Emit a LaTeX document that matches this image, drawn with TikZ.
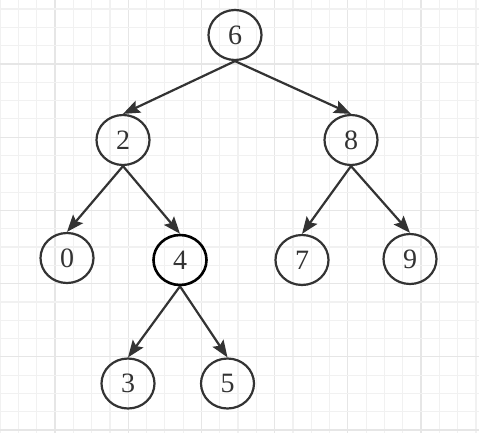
\documentclass[tikz,border=0pt]{standalone}
\usepackage{fontspec}
\setmainfont{Liberation Serif}
\usetikzlibrary{positioning,shapes.geometric,arrows.meta}

\definecolor{inkgray}{HTML}{333333}
\definecolor{gridminor}{HTML}{F1F1F1}
\definecolor{gridmajor}{HTML}{E6E6E6}

\begin{document}
\begin{tikzpicture}[x=1pt, y=-1pt,
    treenode/.style={ellipse, draw=inkgray, line width=2.2pt, minimum width=53pt, minimum height=50pt, inner sep=0pt, text=inkgray, font=\fontsize{28}{28}\selectfont},
    picked/.style={draw=black, line width=2.6pt},
    arrow/.style={->, >={Stealth[length=17pt,width=13pt,inset=3pt]}, line width=2.2pt, draw=inkgray, fill=inkgray}]

    % Background and grid
    \useasboundingbox (0,0) rectangle (479,433);
    \fill[white] (0,0) rectangle (479,433);
    \foreach \k in {0,...,26} {
        \pgfmathtruncatemacro{\m}{mod(\k,4)}
        \ifnum\m=3 \def\gc{gridmajor}\else \def\gc{gridminor}\fi
        \draw[\gc, line width=1.2pt] ({0.1+18.3*\k},0) -- ({0.1+18.3*\k},433);
    }
    \foreach \k in {0,...,23} {
        \pgfmathtruncatemacro{\m}{mod(\k,4)}
        \ifnum\m=3 \def\gc{gridmajor}\else \def\gc{gridminor}\fi
        \draw[\gc, line width=1.2pt] (0,{9.1+18.3*\k}) -- (479,{9.1+18.3*\k});
    }

    % Root
    \node[treenode] (n6) at (235,35) {6};

    % Second level
    \node[treenode] (n2) at (123,140) {2};
    \node[treenode] (n8) at (351,140) {8};

    % Third level
    \node[treenode] (n0) at (67,258) {0};
    \node[treenode, picked] (n4) at (180,260) {4};
    \node[treenode] (n7) at (302,260) {7};
    \node[treenode] (n9) at (410,259) {9};

    % Fourth level
    \node[treenode] (n3) at (128,383.5) {3};
    \node[treenode] (n5) at (227.5,383.5) {5};

    % Connect nodes
    \draw[arrow] (n6.south) -- (n2.north);
    \draw[arrow] (n6.south) -- (n8.north);
    \draw[arrow] (n2.south) -- (n0.north);
    \draw[arrow] (n2.south) -- (n4.north);
    \draw[arrow] (n8.south) -- (n7.north);
    \draw[arrow] (n8.south) -- (n9.north);
    \draw[arrow] (n4.south) -- (n3.north);
    \draw[arrow] (n4.south) -- (n5.north);
\end{tikzpicture}
\end{document}
